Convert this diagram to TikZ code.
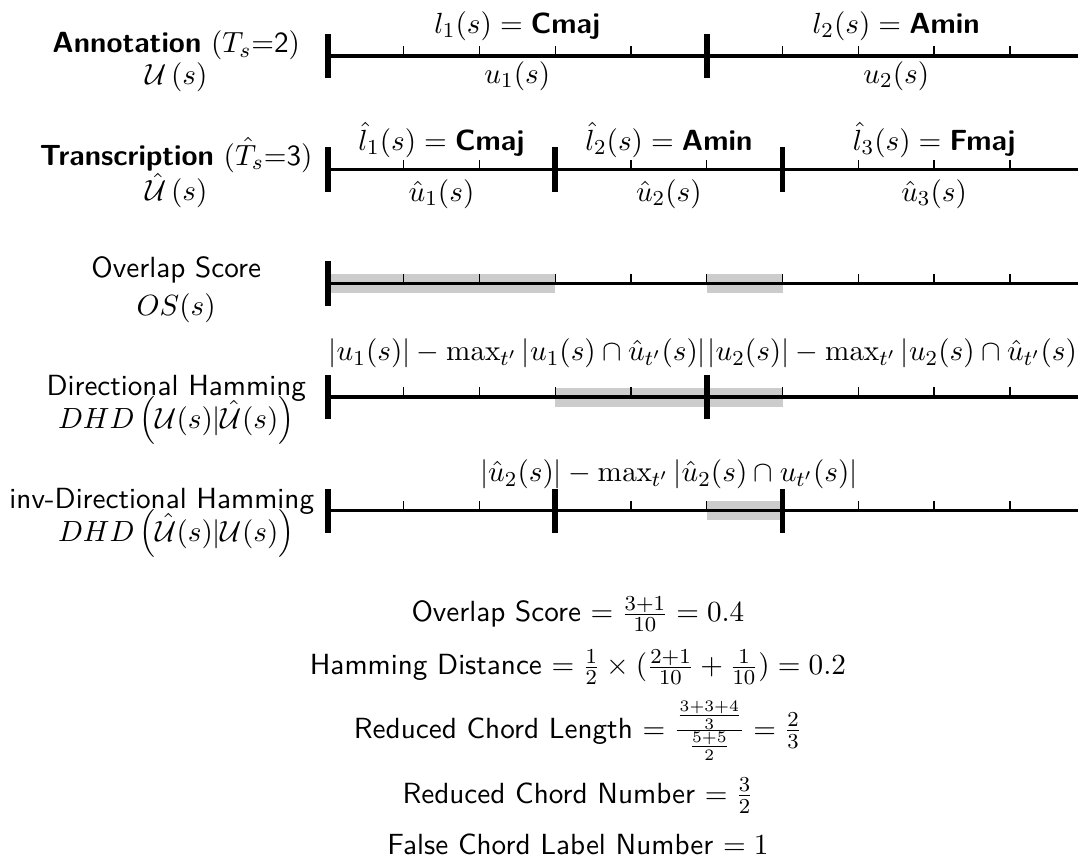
\documentclass[tikz,border=0pt]{standalone}
\tikzset{
  axisline/.style={line width=1.2pt},
  segbar/.style={line width=2.1pt},
  tck/.style={line width=0.5pt},
  band/.style={fill=black!20, draw=none},
  lbl/.style={font=\fontsize{10.95}{13.6}\selectfont\sffamily, inner sep=0pt, anchor=base},
}
\begin{document}
\begin{tikzpicture}
\useasboundingbox (-4.325,0.739) rectangle (9.898,-10.646);
\clip (-4.325,0.739) rectangle (9.898,-10.646);
% grey overlap bands
\fill[band] (0,-3.125) rectangle (3,-2.875);
\fill[band] (5,-3.125) rectangle (6,-2.875);
\fill[band] (3,-4.625) rectangle (6,-4.375);
\fill[band] (5,-6.125) rectangle (6,-5.875);
% time axes with ticks
\foreach \y in {0,-1.5,-3,-4.5,-6}{
  \draw[axisline] (0,\y) -- (10.5,\y);
  \foreach \k in {1,...,10} \draw[tck] (\k,\y) -- (\k,\y+0.13);
}
% segment boundaries
\foreach \x/\y in {0/0,5/0,10/0,0/-1.5,3/-1.5,6/-1.5,0/-3,0/-4.5,5/-4.5,10/-4.5,0/-6,3/-6,6/-6}
  \draw[segbar] (\x,\y-0.293) -- (\x,\y+0.293);
% left labels
\node[lbl] (t1) at (-2,0.04) {{\bfseries Annotation} $(T_s$=2$)$};
\node[lbl] (m1) at (-2,-0.38) {$\mathcal{U}\left(s\right)$};
\node[lbl] (t2) at (-2,-1.44) {{\bfseries Transcription} $(\hat{T}_s$=3$)$};
\node[lbl] (m2) at (-2,-1.91) {$\hat{\mathcal{U}}\left(s\right)$};
\node[lbl] (t3) at (-2,-2.926) {Overlap Score};
\node[lbl] (m3) at (-2,-3.43) {$OS(s)$};
\node[lbl] (t4) at (-2,-4.48) {Directional Hamming};
\node[lbl] (m4) at (-2,-4.91) {$DHD\left(\mathcal{U}(s)|\hat{\mathcal{U}}(s)\right)$};
\node[lbl] (t5) at (-2.19,-5.97) {inv-Directional Hamming};
\node[lbl] (m5) at (-2,-6.40) {$DHD\left(\hat{\mathcal{U}}(s)|\mathcal{U}(s)\right)$};
% annotation segment labels
\node[lbl] (l1) at (2.5,0.30) {$l_1(s) = \mbox{\bfseries Cmaj}$};
\node[lbl] (l2) at (7.5,0.30) {$l_2(s) = \mbox{\bfseries Amin}$};
\node[lbl] (u1) at (2.5,-0.36) {$u_1(s)$};
\node[lbl] (u2) at (7.5,-0.36) {$u_2(s)$};
% transcription segment labels
\node[lbl] (lh1) at (1.5,-1.245) {$\hat{l}_1(s) = \mbox{\bfseries Cmaj}$};
\node[lbl] (lh2) at (4.5,-1.245) {$\hat{l}_2(s) = \mbox{\bfseries Amin}$};
\node[lbl] (lh3) at (8,-1.245) {$\hat{l}_3(s) = \mbox{\bfseries Fmaj}$};
\node[lbl] (uh1) at (1.5,-1.914) {$\hat{u}_1(s)$};
\node[lbl] (uh2) at (4.5,-1.914) {$\hat{u}_2(s)$};
\node[lbl] (uh3) at (8,-1.914) {$\hat{u}_3(s)$};
% hamming formulas
\node[lbl] (f1) at (2.5,-4.02) {$|u_1(s)| - \max_{t'} |u_1(s) \cap \hat{u}_{t'}(s)|$};
\node[lbl] (f2) at (7.5,-4.02) {$|u_2(s)| - \max_{t'} |u_2(s) \cap \hat{u}_{t'}(s)|$};
\node[lbl] (f3) at (4.5,-5.617) {$|\hat{u}_2(s)| - \max_{t'} |\hat{u}_2(s) \cap u_{t'}(s)|$};
% summary
\node[lbl] (b1) at (3.30,-7.463) {Overlap Score $= \frac{3+1}{10} = 0.4$};
\node[lbl] (b2) at (3.30,-8.166) {Hamming Distance $= \frac{1}{2} \times \bigl(\frac{2+1}{10} + \frac{1}{10}\bigr) = 0.2$};
\node[lbl] (b3) at (3.30,-9.001) {Reduced Chord Length $= \frac{\frac{3+3+4}{3}}{\frac{5+5}{2}} = \frac{2}{3}$};
\node[lbl] (b4) at (3.30,-9.859) {Reduced Chord Number $= \frac{3}{2}$};
\node[lbl] (b5) at (3.30,-10.541) {False Chord Label Number $= 1$};
\end{tikzpicture}
\end{document}
